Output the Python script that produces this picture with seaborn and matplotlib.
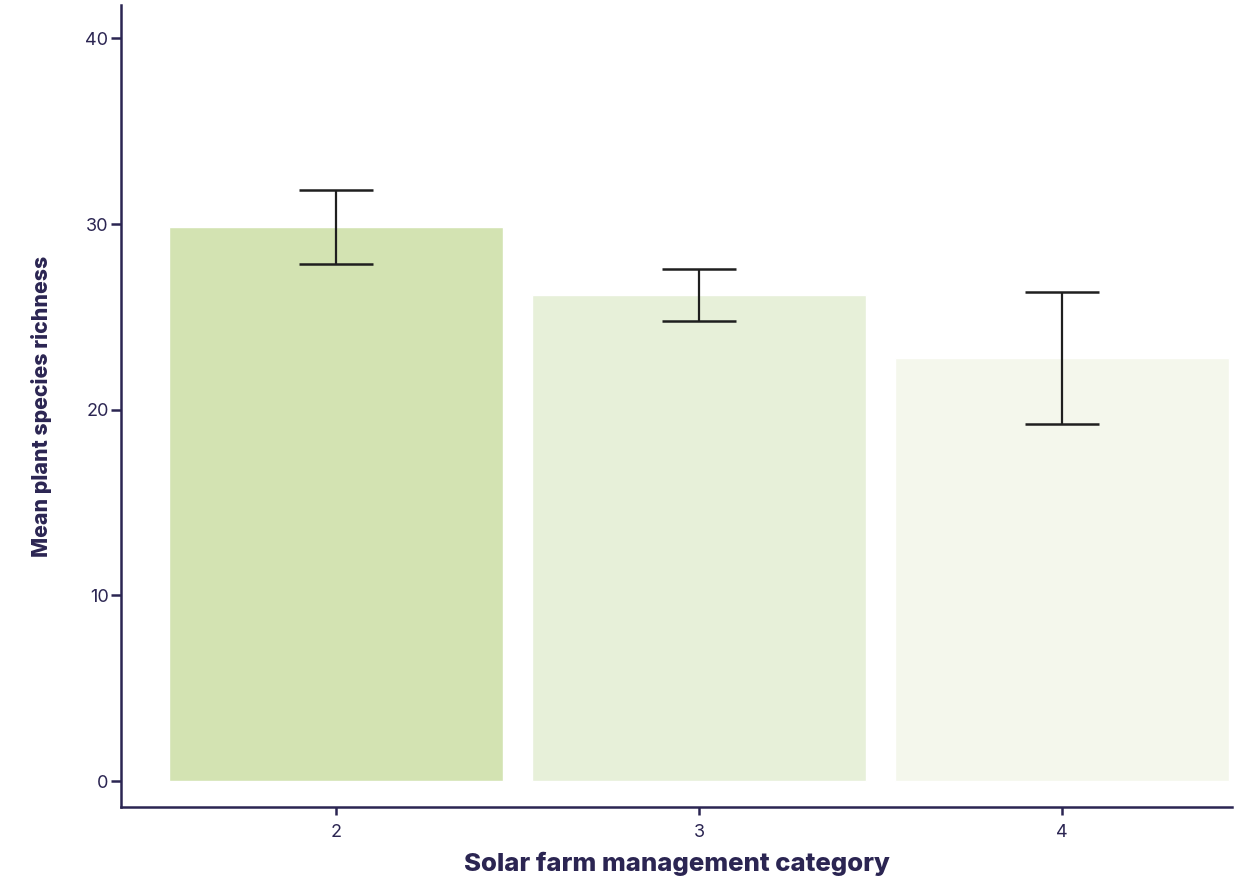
import matplotlib
matplotlib.use("Agg")
import matplotlib.pyplot as plt
import seaborn as sns
import pandas as pd

# Mean plant species richness by solar farm management category
categories = ["2", "3", "4"]
mean_richness = [29.85, 26.2, 22.8]
error = [2.0, 1.4, 3.55]
bar_colors = ["#d3e3b2", "#e7f0d9", "#f4f7ec"]
y_ticks = [0, 10, 20, 30, 40]

sns.set_style("white")
plt.rcParams["font.family"] = ["Inter", "DejaVu Sans"]

navy = "#2b2552"

df = pd.DataFrame({"category": categories, "richness": mean_richness})

fig = plt.figure(figsize=(12.37, 8.9), dpi=100)
ax = fig.add_axes([121 / 1237, 1 - 807 / 890, (1232 - 121) / 1237, (807 - 5) / 890])

sns.barplot(data=df, x="category", y="richness", hue="category",
            palette=bar_colors, errorbar=None, width=0.918, legend=False,
            saturation=1, ax=ax)

ax.errorbar(range(len(categories)), mean_richness, yerr=error, fmt="none",
            ecolor="#1f1f1f", elinewidth=1.6, capsize=26.5, capthick=1.8)

ax.set_xlim(-0.592, 2.468)
ax.set_ylim(-1.4, 41.8)
ax.set_yticks(y_ticks)

for side in ["top", "right"]:
    ax.spines[side].set_visible(False)
for side in ["left", "bottom"]:
    ax.spines[side].set_color(navy)
    ax.spines[side].set_linewidth(1.8)

ax.tick_params(axis="y", length=7, width=1.8, color=navy, labelcolor=navy,
               labelsize=13, pad=2, left=True)
ax.tick_params(axis="x", length=6, width=1.8, color=navy, labelcolor=navy,
               labelsize=13, pad=6, bottom=True)

ax.set_xlabel("Solar farm management category", fontsize=18.5, fontweight="heavy",
              color=navy, labelpad=8)
ax.set_ylabel("Mean plant species richness", fontsize=15.3, fontweight="heavy",
              color=navy, labelpad=24)

fig.savefig("out.png", dpi=100)
